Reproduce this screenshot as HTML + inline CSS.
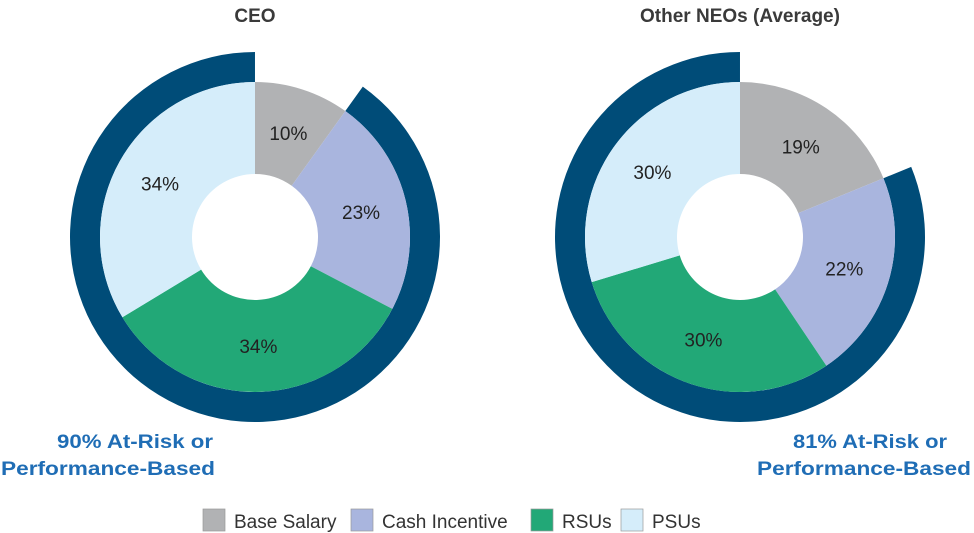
<!DOCTYPE html>
<html><head><meta charset="utf-8"><style>
body{margin:0;background:#fff;width:974px;height:533px;overflow:hidden;font-family:"Liberation Sans",sans-serif}
svg{display:block}
</style></head><body>
<svg width="974" height="533">
<g id="charts"></g>
<text x="255" y="22" text-anchor="middle" font-weight="bold" font-size="19" fill="#3a3a3a">CEO</text>
<text x="740" y="22" text-anchor="middle" font-weight="bold" font-size="19" fill="#3a3a3a">Other NEOs (Average)</text>
<g font-weight="bold" font-size="19" fill="#1f6db5">
<text x="57" y="448" textLength="156" lengthAdjust="spacingAndGlyphs">90% At-Risk or</text>
<text x="1" y="475" textLength="214" lengthAdjust="spacingAndGlyphs">Performance-Based</text>
<text x="793" y="448" textLength="154" lengthAdjust="spacingAndGlyphs">81% At-Risk or</text>
<text x="757" y="475" textLength="214" lengthAdjust="spacingAndGlyphs">Performance-Based</text>
</g>
<g id="legend" font-size="19" fill="#333"></g>
</svg>
<script>
const categories=["Base Salary","Cash Incentive","RSUs","PSUs"];
const ceoValues=[10,23,34,34];
const neoValues=[19,22,30,30];
const colors=["#b1b2b4","#a9b5de","#22a877","#d5edfa"];
const NS="http://www.w3.org/2000/svg";
const g=document.getElementById('charts');
function pt(cx,cy,r,a){return [cx+r*Math.sin(a),cy-r*Math.cos(a)];}
function arc(cx,cy,r0,r1,a0,a1){
 const l=(a1-a0)>Math.PI?1:0;
 const p1=pt(cx,cy,r1,a0),p2=pt(cx,cy,r1,a1),p3=pt(cx,cy,r0,a1),p4=pt(cx,cy,r0,a0);
 return `M${p1}A${r1},${r1} 0 ${l} 1 ${p2}L${p3}A${r0},${r0} 0 ${l} 0 ${p4}Z`;
}
function donut(cx,cy,vals,name){
 const tot=vals.reduce((a,b)=>a+b,0);let a=0;
 const ringStart=vals[0]/tot*2*Math.PI;
 const ring=document.createElementNS(NS,'path');
 ring.setAttribute('d',arc(cx,cy,155,185,ringStart,2*Math.PI-0.0001));
 ring.setAttribute('fill','#004c78');
 
 
 g.appendChild(ring);
 vals.forEach((v,i)=>{
  const a1=a+v/tot*2*Math.PI;
  const p=document.createElementNS(NS,'path');
  p.setAttribute('d',arc(cx,cy,63,155,a,a1));
  p.setAttribute('fill',colors[i]);
  
  
  g.appendChild(p);
  const m=(a+a1)/2,lp=pt(cx,cy,109,m);
  const t=document.createElementNS(NS,'text');
  t.setAttribute('x',lp[0]);t.setAttribute('y',lp[1]+7);
  t.setAttribute('text-anchor','middle');t.setAttribute('font-size','19');t.setAttribute('fill','#222');
  t.textContent=v+'%';
  
  
  g.appendChild(t);
  a=a1;
 });
}
donut(255,237,ceoValues,'ceo');
donut(740,237,neoValues,'neo');
const lg=document.getElementById('legend');
const lx=[203,351,531,621];
categories.forEach((c,i)=>{
 const r=document.createElementNS(NS,'rect');
 r.setAttribute('x',lx[i]);r.setAttribute('y',509);r.setAttribute('width',22);r.setAttribute('height',22);
 r.setAttribute('fill',colors[i]);r.setAttribute('stroke','#999');r.setAttribute('stroke-width','0.7');
 
 
 lg.appendChild(r);
 const t=document.createElementNS(NS,'text');
 t.setAttribute('x',lx[i]+31);t.setAttribute('y',528);t.textContent=c;
 
 
 lg.appendChild(t);
});
</script>
</body></html>
